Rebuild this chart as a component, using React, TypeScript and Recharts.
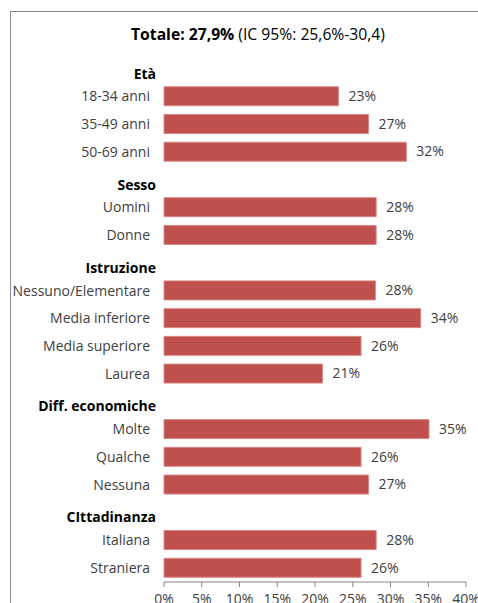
import { BarChart, Bar, XAxis, YAxis, LabelList } from 'recharts';

// rows: group headers have no value
const categories = [
  'Età', '18-34 anni', '35-49 anni', '50-69 anni',
  'Sesso', 'Uomini', 'Donne',
  'Istruzione', 'Nessuno/Elementare', 'Media inferiore', 'Media superiore', 'Laurea',
  'Diff. economiche', 'Molte', 'Qualche', 'Nessuna',
  'CIttadinanza', 'Italiana', 'Straniera',
];
const headers = ['Età', 'Sesso', 'Istruzione', 'Diff. economiche', 'CIttadinanza'];
const values: (number | null)[] = [
  null, 23.1, 27.1, 32.1,
  null, 28.1, 28.1,
  null, 28.0, 34.0, 26.1, 21.0,
  null, 35.1, 26.1, 27.1,
  null, 28.1, 26.1,
];
const xTicks = [0, 5, 10, 15, 20, 25, 30, 35, 40];

const FONT = '"Open Sans", sans-serif';
const FS = 14;

const data = categories.map((name, i) => ({ name, value: values[i] }));

function CategoryTick(props: any) {
  const { y, payload } = props;
  const isHeader = headers.includes(payload.value);
  if (isHeader) {
    return (
      <text x={156} y={y + 6} textAnchor="end" dominantBaseline="middle"
        fontFamily={FONT} fontSize={FS} fontWeight="bold" fill="#000">
        {payload.value}
      </text>
    );
  }
  return (
    <text x={150} y={y + 1} textAnchor="end" dominantBaseline="middle"
      fontFamily={FONT} fontSize={FS} fill="#404040">
      {payload.value}
    </text>
  );
}

function ValueLabel(props: any) {
  const { x, y, width, height, value } = props;
  if (value === null || value === undefined) return null;
  return (
    <text x={x + width + 10} y={y + height / 2 + 1} dominantBaseline="middle"
      fontFamily={FONT} fontSize={FS} fill="#404040">
      {Math.round(value)}%
    </text>
  );
}

export default function App() {
  return (
    <div style={{ position: 'fixed', left: 0, top: 0, width: 478, height: 603, overflow: 'hidden', background: '#fff' }}>
      <div style={{
        position: 'absolute', left: 10, top: 11, width: 520, height: 640,
        borderTop: '1.5px solid #8a8a8a', borderLeft: '1.5px solid #8a8a8a',
      }} />
      <div style={{
        position: 'absolute', left: 10, top: 23, width: 496, textAlign: 'center',
        fontFamily: FONT, fontSize: 15.7, color: '#000', whiteSpace: 'nowrap',
      }}>
        <b>Totale: 27,9%</b> (IC 95%: 25,6%-30,4)
      </div>
      <div style={{ position: 'absolute', left: 0, top: 0 }}>
        <BarChart width={478} height={620} data={data} layout="vertical"
          margin={{ top: 55, right: 12, left: 0, bottom: 8 }}>
          <XAxis type="number" domain={[0, 40]} ticks={xTicks} interval={0}
            tickFormatter={(v: number) => `${v}%`} height={30}
            stroke="#868686" tickSize={5} tickMargin={7}
            tick={{ fontFamily: FONT, fontSize: FS, fill: '#404040' }} />
          <YAxis type="category" dataKey="name" width={164} axisLine={false} tickLine={false}
            interval={0} tick={<CategoryTick />} />
          <Bar dataKey="value" fill="#C0504D" stroke="#D58A87" strokeWidth={1}
            barSize={19} isAnimationActive={false}>
            <LabelList dataKey="value" content={<ValueLabel />} />
          </Bar>
        </BarChart>
      </div>
    </div>
  );
}
